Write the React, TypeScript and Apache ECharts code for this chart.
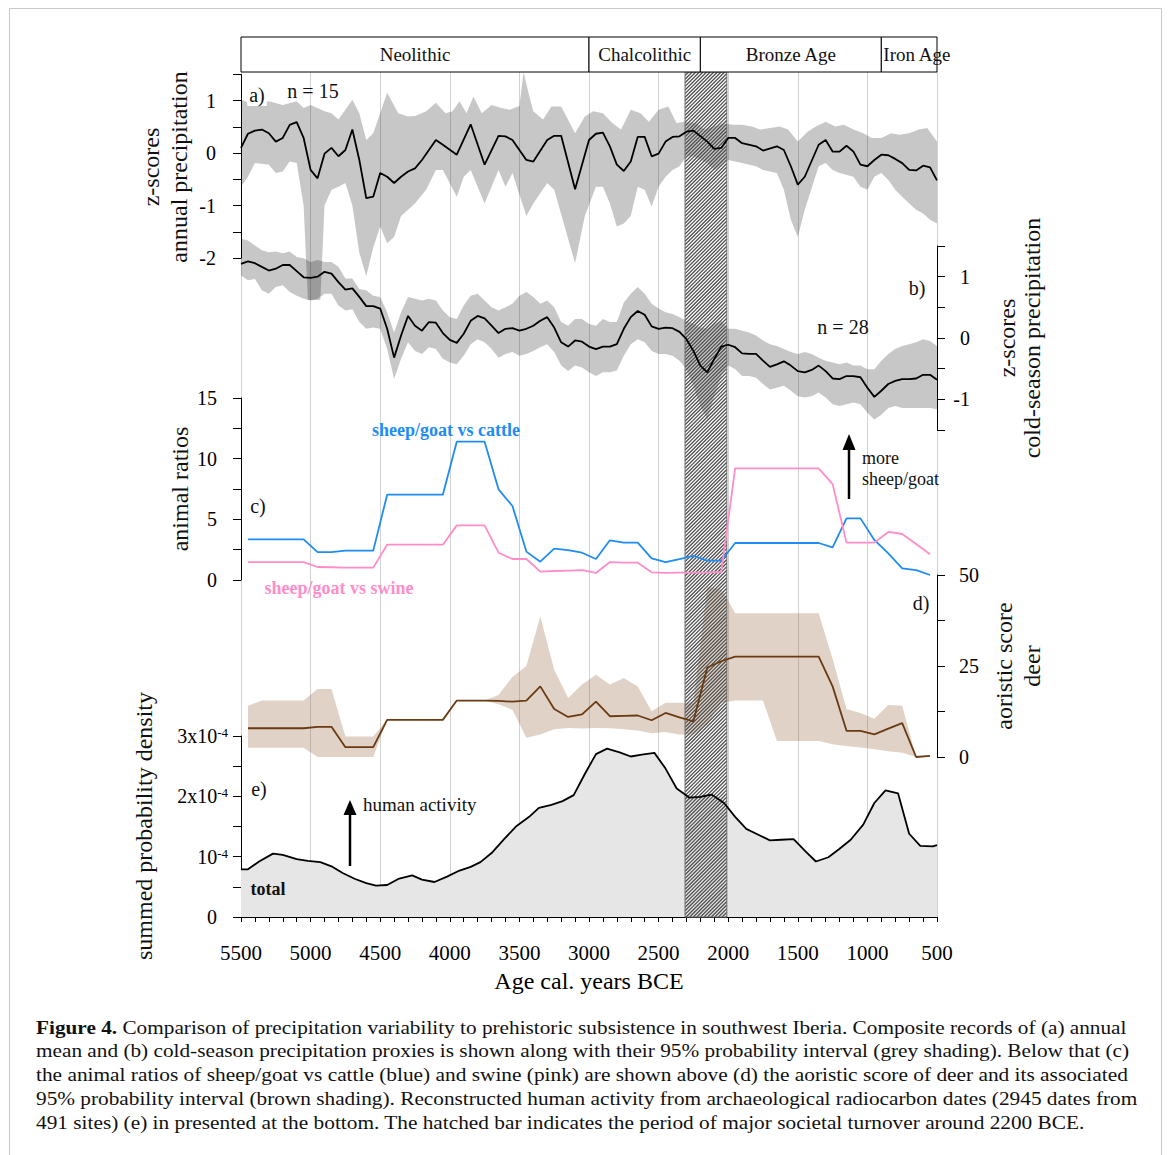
import React, { useEffect, useRef } from 'react';
import * as echarts from 'echarts';

const FONT = '"Liberation Serif", "Times New Roman", "DejaVu Serif", serif';

// ---------- period bar ----------
const periodNames = ['Neolithic', 'Chalcolithic', 'Bronze Age', 'Iron Age'];
const periodStart = [5500, 3000, 2200, 900];
const periodEnd = [3000, 2200, 900, 500];

// hatched bar (societal turnover)
const hatchSpan = [2310, 2010];

// ---------- (a) annual precipitation z-scores ----------
const aYears = [5500,5450,5400,5350,5300,5250,5200,5150,5100,5050,5000,4950,4900,4850,4800,4750,4700,4650,4600,4550,4500,4450,4400,4350,4300,4250,4200,4100,4050,3950,3850,3750,3650,3600,3550,3450,3400,3300,3250,3200,3100,3000,2950,2900,2850,2800,2750,2700,2650,2600,2550,2500,2450,2400,2350,2300,2250,2150,2100,2050,2000,1950,1900,1800,1750,1650,1600,1550,1500,1450,1350,1300,1250,1200,1150,1100,1050,1000,950,900,850,800,750,700,650,600,550,500];
const aValues = [0.10,0.37,0.43,0.45,0.38,0.22,0.29,0.54,0.59,0.29,-0.32,-0.48,-0.01,0.10,-0.06,0.06,0.45,-0.13,-0.86,-0.83,-0.38,-0.45,-0.57,-0.45,-0.35,-0.29,-0.13,0.25,0.16,-0.03,0.55,-0.22,0.33,0.32,0.25,-0.13,-0.16,0.25,0.33,0.33,-0.69,0.25,0.37,0.39,0.13,-0.22,-0.34,-0.16,0.31,0.31,-0.06,-0.01,0.22,0.31,0.32,0.41,0.43,0.22,0.08,0.10,0.29,0.29,0.19,0.13,0.05,0.13,0.06,-0.25,-0.60,-0.45,0.16,0.25,0.03,0.03,0.14,0.03,-0.22,-0.25,-0.13,-0.03,-0.04,-0.11,-0.19,-0.32,-0.33,-0.24,-0.27,-0.52];
const aUpper = [[5500,1.02],[5400,0.92],[5300,0.99],[5200,0.92],[5100,0.99],[5050,0.86],[5000,0.92],[4900,0.8],[4850,0.76],[4800,0.64],[4700,1.02],[4650,0.76],[4600,0.25],[4550,0.38],[4450,1.15],[4370,0.76],[4300,0.7],[4250,0.71],[4170,0.8],[4100,0.96],[4030,0.76],[3980,0.8],[3930,0.99],[3880,0.76],[3830,1.08],[3770,0.76],[3700,0.92],[3630,0.86],[3570,0.83],[3500,0.9],[3470,1.55],[3430,1.1],[3400,0.8],[3330,0.64],[3270,0.89],[3200,0.89],[3100,0.38],[3030,0.7],[2970,0.8],[2900,0.76],[2830,0.57],[2770,0.45],[2700,0.83],[2630,0.76],[2570,0.6],[2500,0.83],[2430,0.89],[2370,0.57],[2320,0.6],[2230,0.57],[2170,0.45],[2030,0.57],[1970,0.54],[1900,0.54],[1830,0.51],[1770,0.45],[1700,0.48],[1630,0.51],[1570,0.45],[1500,0.22],[1430,0.41],[1370,0.51],[1300,0.6],[1230,0.51],[1170,0.54],[1100,0.45],[1030,0.38],[970,0.29],[900,0.29],[830,0.38],[770,0.35],[700,0.38],[630,0.45],[570,0.48],[500,0.22]];
const aLower = [[5500,-0.64],[5450,-0.45],[5400,-0.19],[5300,-0.22],[5250,-0.38],[5200,-0.35],[5150,-0.16],[5100,-0.19],[5050,-1.0],[5020,-2.8],[4930,-2.8],[4900,-1.0],[4850,-0.7],[4800,-0.64],[4750,-0.57],[4700,-1.0],[4650,-1.9],[4600,-2.35],[4550,-1.8],[4500,-1.4],[4450,-1.72],[4400,-1.6],[4350,-1.2],[4300,-1.08],[4250,-0.96],[4170,-0.7],[4100,-0.32],[4050,-0.32],[3950,-0.83],[3900,-0.45],[3850,-0.32],[3750,-0.96],[3650,-0.32],[3600,-0.64],[3550,-0.38],[3450,-1.2],[3400,-0.96],[3300,-0.57],[3250,-0.7],[3100,-2.1],[3030,-1.2],[2950,-0.64],[2900,-0.64],[2850,-0.96],[2800,-1.4],[2750,-1.34],[2700,-1.2],[2650,-0.64],[2600,-0.7],[2550,-1.02],[2500,-0.64],[2450,-0.45],[2400,-0.32],[2350,-0.25],[2300,-0.06],[2250,-0.06],[2150,-0.19],[2100,-0.32],[2050,-0.25],[2000,-0.13],[1900,-0.19],[1800,-0.25],[1750,-0.32],[1650,-0.38],[1600,-0.7],[1550,-1.27],[1500,-1.6],[1450,-1.08],[1350,-0.25],[1300,-0.19],[1250,-0.32],[1200,-0.38],[1100,-0.45],[1050,-0.64],[1000,-0.7],[950,-0.45],[900,-0.38],[850,-0.51],[800,-0.7],[750,-0.83],[700,-0.96],[650,-1.08],[600,-1.15],[550,-1.27],[500,-1.34]];

// ---------- (b) cold-season precipitation z-scores ----------
const bYears = [5500,5450,5400,5350,5300,5250,5200,5150,5100,5050,5000,4950,4900,4850,4800,4750,4700,4650,4600,4550,4500,4450,4400,4350,4300,4250,4200,4150,4100,4050,4000,3950,3900,3850,3800,3750,3700,3650,3600,3550,3500,3450,3400,3350,3300,3250,3200,3150,3100,3050,3000,2950,2900,2850,2800,2750,2700,2650,2600,2550,2500,2450,2400,2350,2300,2250,2200,2150,2100,2050,2000,1950,1900,1850,1800,1750,1700,1650,1600,1550,1500,1450,1400,1350,1300,1250,1200,1150,1100,1050,1000,950,900,850,800,750,700,650,600,550,500];
const bValues = [1.21,1.25,1.22,1.16,1.10,1.13,1.19,1.19,1.09,0.99,0.98,1.00,1.08,1.05,0.91,0.79,0.81,0.67,0.52,0.52,0.48,0.15,-0.32,0.04,0.36,0.20,0.12,0.26,0.25,0.08,-0.03,-0.08,0.07,0.28,0.36,0.32,0.20,0.08,0.15,0.16,0.12,0.15,0.20,0.28,0.34,0.17,-0.07,-0.14,-0.04,-0.06,-0.14,-0.18,-0.14,-0.14,-0.10,0.15,0.34,0.44,0.38,0.19,0.15,0.17,0.16,0.10,-0.02,-0.21,-0.45,-0.56,-0.34,-0.14,-0.11,-0.15,-0.25,-0.26,-0.26,-0.37,-0.47,-0.43,-0.38,-0.45,-0.54,-0.56,-0.52,-0.45,-0.54,-0.66,-0.67,-0.62,-0.62,-0.64,-0.81,-0.96,-0.86,-0.75,-0.70,-0.67,-0.67,-0.66,-0.60,-0.60,-0.68];
const bUpper = [1.62,1.59,1.51,1.43,1.40,1.41,1.38,1.41,1.32,1.30,1.24,1.27,1.24,1.24,1.16,0.97,0.97,0.80,0.78,0.69,0.67,0.42,0.09,0.42,0.67,0.64,0.61,0.64,0.61,0.45,0.34,0.31,0.53,0.69,0.72,0.61,0.50,0.45,0.50,0.56,0.69,0.75,0.67,0.56,0.61,0.50,0.26,0.20,0.31,0.31,0.23,0.20,0.31,0.26,0.26,0.58,0.72,0.83,0.72,0.56,0.48,0.42,0.39,0.34,0.28,0.23,0.17,0.15,0.23,0.28,0.15,0.15,0.12,0.09,0.04,-0.04,-0.10,-0.13,-0.18,-0.23,-0.26,-0.23,-0.26,-0.32,-0.37,-0.40,-0.43,-0.40,-0.45,-0.45,-0.51,-0.51,-0.37,-0.26,-0.18,-0.13,-0.10,-0.07,-0.02,-0.05,-0.13];
const bLower = [1.02,0.94,0.96,0.78,0.72,0.83,0.86,0.75,0.69,0.64,0.61,0.64,0.72,0.72,0.53,0.45,0.47,0.26,0.15,0.17,0.15,-0.18,-0.67,-0.34,-0.07,-0.21,-0.26,-0.15,-0.18,-0.34,-0.40,-0.43,-0.29,-0.10,-0.02,-0.07,-0.18,-0.32,-0.26,-0.23,-0.29,-0.26,-0.21,-0.15,-0.10,-0.23,-0.45,-0.54,-0.45,-0.48,-0.56,-0.62,-0.56,-0.56,-0.53,-0.29,-0.10,-0.02,-0.07,-0.21,-0.26,-0.26,-0.29,-0.37,-0.51,-0.78,-1.11,-1.33,-0.95,-0.62,-0.45,-0.51,-0.62,-0.62,-0.65,-0.75,-0.84,-0.81,-0.78,-0.86,-0.95,-0.97,-0.95,-0.89,-0.97,-1.08,-1.11,-1.08,-1.05,-1.08,-1.22,-1.33,-1.25,-1.14,-1.11,-1.14,-1.14,-1.14,-1.14,-1.14,-1.16];

// ---------- (c) animal ratios, (d) deer ----------
const cdYears = [5450,5050,4950,4850,4750,4550,4450,4050,3950,3750,3650,3550,3450,3350,3250,3150,3050,2950,2850,2750,2650,2550,2450,2350,2250,2150,2050,1950,1350,1250,1150,1050,950,850,750,650,550];
const cattleRatio = [3.35,3.35,2.30,2.30,2.42,2.42,7.03,7.03,11.4,11.4,7.47,6.10,2.34,1.51,2.58,2.47,2.25,1.73,3.27,3.08,3.08,1.79,1.48,1.73,1.98,1.59,1.59,3.05,3.05,2.69,5.08,5.08,3.30,2.20,0.96,0.82,0.41];
const swineRatio = [1.48,1.48,1.07,1.05,1.02,1.02,2.91,2.91,4.50,4.50,2.25,1.73,1.73,0.69,0.74,0.78,0.82,0.58,1.48,1.43,1.43,0.63,0.58,0.60,0.60,0.62,0.66,9.20,9.20,7.90,3.08,3.08,3.08,3.96,3.79,2.97,2.12];
const deerScore = [7.9,7.9,8.3,8.3,2.7,2.7,10.2,10.2,15.5,15.5,15.4,15.2,15.5,19.4,13.2,11.0,11.7,15.2,11.2,11.3,11.4,10.1,12.1,10.9,9.8,24.6,26.3,27.6,27.6,19.4,7.2,7.2,6.2,7.8,9.3,0.0,0.3];
const deerUpper = [[5450,14.1],[5350,15.5],[5050,15.5],[4950,18.7],[4850,18.7],[4750,5.6],[4550,5.6],[4450,10.3],[4050,10.3],[3950,15.5],[3750,15.5],[3650,17],[3550,22],[3450,25],[3350,38.6],[3250,24],[3150,16.2],[3050,19.9],[2950,22.6],[2850,19.9],[2750,21.7],[2650,19.4],[2550,12.6],[2450,14.9],[2350,14.9],[2250,14.9],[2150,46.8],[2050,46],[2000,43],[1950,39.5],[1350,39.5],[1250,27],[1150,13.2],[1050,12.1],[950,10.5],[850,14.3],[750,14.1],[650,0],[550,0.3]];
const deerLower = [[5450,2.55],[5050,2.55],[4950,0],[4550,0],[4450,10.2],[4050,10.2],[3950,15.5],[3750,15.5],[3650,14.5],[3550,13],[3450,5.3],[3350,6.2],[3250,7.6],[3150,8],[3050,7.8],[2950,8],[2850,7.9],[2750,7.6],[2650,7.3],[2550,6.5],[2450,6.9],[2350,6.2],[2250,6.2],[2150,9],[2050,14.9],[1950,15.5],[1750,15.5],[1650,4.4],[1350,4.4],[1250,3.5],[1150,3],[1050,2.6],[950,2.1],[850,1.6],[750,1.2],[650,0],[550,0.3]];

// ---------- (e) summed probability density (x 1e-4) ----------
const eYears = [5500,5450,5370,5270,5200,5100,5020,4930,4850,4770,4680,4600,4530,4450,4370,4270,4200,4110,4020,3930,3850,3780,3700,3610,3520,3430,3360,3270,3190,3110,3030,2950,2870,2780,2700,2620,2530,2450,2370,2280,2200,2120,2030,1950,1870,1780,1700,1620,1530,1450,1370,1280,1200,1120,1030,950,870,780,700,620,530,500];
const eValues = [0.79,0.79,0.92,1.05,1.03,0.96,0.93,0.91,0.84,0.73,0.63,0.56,0.52,0.53,0.63,0.69,0.62,0.58,0.67,0.77,0.83,0.91,1.06,1.29,1.51,1.66,1.81,1.86,1.92,2.02,2.37,2.70,2.79,2.73,2.66,2.69,2.72,2.46,2.13,1.98,1.99,2.03,1.89,1.66,1.46,1.36,1.27,1.28,1.29,1.10,0.92,0.99,1.13,1.28,1.53,1.89,2.10,2.05,1.38,1.18,1.17,1.19];

const xTicks = [5500, 5000, 4500, 4000, 3500, 3000, 2500, 2000, 1500, 1000, 500];

const captionBold = 'Figure 4.';
const captionLines = [
  ' Comparison of precipitation variability to prehistoric subsistence in southwest Iberia. Composite records of (a) annual',
  'mean and (b) cold-season precipitation proxies is shown along with their 95% probability interval (grey shading). Below that (c)',
  'the animal ratios of sheep/goat vs cattle (blue) and swine (pink) are shown above (d) the aoristic score of deer and its associated',
  '95% probability interval (brown shading). Reconstructed human activity from archaeological radiocarbon dates (2945 dates from',
  '491 sites) (e) in presented at the bottom. The hatched bar indicates the period of major societal turnover around 2200 BCE.',
];
const captionRight = [1127, 1130, 1128, 1138, 1085];

// ---------- helpers ----------
const zip = (xs: number[], ys: number[]) => xs.map((x, i) => [x, ys[i]]);

function measure(text: string, font: string) {
  const ctx = document.createElement('canvas').getContext('2d');
  if (!ctx) return text.length * 8;
  ctx.font = font;
  return ctx.measureText(text).width;
}

function bandSeries(idx: number, upper: number[][], lower: number[][], fill: string, z: number) {
  return {
    type: 'custom',
    xAxisIndex: idx,
    yAxisIndex: idx,
    z,
    silent: true,
    clip: false,
    data: [upper[0]],
    renderItem: (_p: any, api: any) => {
      const pts = upper.map((p) => api.coord(p)).concat(lower.slice().reverse().map((p) => api.coord(p)));
      return { type: 'polygon', shape: { points: pts }, style: { fill } };
    },
  };
}

function lineSeries(idx: number, data: number[][], color: string, width = 1.8, z = 6) {
  return {
    type: 'line',
    xAxisIndex: idx,
    yAxisIndex: idx,
    data,
    symbol: 'none',
    showSymbol: false,
    silent: true,
    z,
    lineStyle: { color, width },
  };
}

function txt(text: string, x: number, y: number, extra: any = {}, el: any = {}) {
  return {
    type: 'text',
    x,
    y,
    z: 100,
    silent: true,
    ...el,
    style: {
      text,
      fontSize: 20,
      fontFamily: FONT,
      fill: '#111',
      align: 'center',
      verticalAlign: 'middle',
      textAlign: 'center',
      textVerticalAlign: 'middle',
      ...extra,
    },
  };
}

function arrow(x: number, yTip: number, yHead: number, yTail: number) {
  return {
    type: 'group',
    z: 100,
    silent: true,
    children: [
      { type: 'line', shape: { x1: x, y1: yTail, x2: x, y2: yHead }, style: { stroke: '#000', lineWidth: 2.5 } },
      { type: 'polygon', shape: { points: [[x - 6.5, yHead], [x + 6.5, yHead], [x, yTip]] }, style: { fill: '#000' } },
    ],
  };
}

function buildOption() {
  const GL = 241;
  const GW = 696;
  const gridDefs = [
    { top: 72, height: 845 }, // 0 background / hatch
    { top: 74.5, height: 183.5 }, // 1 a
    { top: 246, height: 184 }, // 2 b
    { top: 398, height: 182 }, // 3 c
    { top: 575, height: 182 }, // 4 d
    { top: 736, height: 181 }, // 5 e
    { top: 37, height: 35 }, // 6 periods
  ];
  const grid = gridDefs.map((g) => ({ left: GL, width: GW, ...g }));

  const xAxis: any[] = gridDefs.map((_, i) => ({
    type: 'value',
    gridIndex: i,
    min: 500,
    max: 5500,
    inverse: true,
    show: false,
  }));
  xAxis[0] = {
    type: 'value',
    gridIndex: 0,
    min: 500,
    max: 5500,
    interval: 500,
    inverse: true,
    axisLine: { show: false },
    axisTick: { show: false },
    axisLabel: { show: false },
    splitLine: { show: true, lineStyle: { color: '#d2d2d2', width: 1 } },
  };
  xAxis[5] = {
    type: 'value',
    gridIndex: 5,
    min: 500,
    max: 5500,
    interval: 500,
    inverse: true,
    position: 'bottom',
    axisLine: { show: true, onZero: false, lineStyle: { color: '#000', width: 1 } },
    axisTick: { show: true, length: 5, lineStyle: { color: '#000' } },
    minorTick: { show: true, splitNumber: 5, length: 5, lineStyle: { color: '#000' } },
    axisLabel: {
      fontSize: 21,
      fontFamily: FONT,
      color: '#000',
      margin: 25,
      formatter: (v: number) => (xTicks.indexOf(v) >= 0 ? String(v) : ''),
    },
    splitLine: { show: false },
    name: 'Age cal. years BCE',
    nameLocation: 'middle',
    nameGap: 52,
    nameTextStyle: { fontSize: 24, fontFamily: FONT, color: '#000' },
  };

  const axisCommon = (gridIndex: number, min: number, max: number, interval: number, position: string, labelEvery: number, margin: number, align?: string) => ({
    type: 'value',
    gridIndex,
    min,
    max,
    interval,
    position,
    axisLine: { show: true, onZero: false, lineStyle: { color: '#000', width: 1 } },
    axisTick: { show: true, length: 8, lineStyle: { color: '#000' } },
    splitLine: { show: false },
    axisLabel: {
      fontSize: 20,
      fontFamily: FONT,
      color: '#000',
      margin,
      ...(align ? { align } : {}),
      formatter: (v: number) => (Math.abs(v / labelEvery - Math.round(v / labelEvery)) < 1e-6 ? String(Math.round(v)) : ''),
    },
  });

  const yAxis: any[] = [
    { type: 'value', gridIndex: 0, min: 0, max: 1, show: false },
    axisCommon(1, -2, 1.5, 0.5, 'left', 1, 25),
    axisCommon(2, -1.5, 1.5, 0.5, 'right', 1, 33, 'right'),
    axisCommon(3, 0, 15, 2.5, 'left', 5, 24),
    axisCommon(4, 0, 50, 12.5, 'right', 25, 22, 'left'),
    {
      ...axisCommon(5, 0, 3, 0.5, 'left', 1, 13),
      axisLabel: {
        fontSize: 20,
        fontFamily: FONT,
        color: '#000',
        margin: 13,
        formatter: (v: number) => {
          if (v === 0) return '{z|0}';
          if (v === 1) return '{n|10}{s|-4}';
          if (Number.isInteger(v)) return `{n|${v}x10}{s|-4}`;
          return '';
        },
        rich: {
          n: { fontSize: 20, fontFamily: FONT, color: '#000', lineHeight: 20, verticalAlign: 'bottom' },
          s: { fontSize: 13, fontFamily: FONT, color: '#000', lineHeight: 13, verticalAlign: 'top' },
          z: { fontSize: 20, fontFamily: FONT, color: '#000', padding: [0, 11, 0, 0] },
        },
      },
    },
    { type: 'value', gridIndex: 6, min: 0, max: 1, show: false },
  ];

  const hatch = {
    type: 'custom',
    xAxisIndex: 0,
    yAxisIndex: 0,
    z: 4,
    silent: true,
    data: [hatchSpan],
    renderItem: (_p: any, api: any) => {
      const a = api.coord([api.value(0), 1]);
      const b = api.coord([api.value(1), 0]);
      const L = Math.min(a[0], b[0]);
      const R = Math.max(a[0], b[0]);
      const T = Math.min(a[1], b[1]);
      const B = Math.max(a[1], b[1]);
      const children: any[] = [];
      for (let c = L + T; c <= R + B; c += 3.6) {
        const y1 = Math.max(T, c - R);
        const y2 = Math.min(B, c - L);
        if (y2 > y1) children.push({ type: 'line', shape: { x1: c - y1, y1, x2: c - y2, y2 }, style: { stroke: '#4d4d4d', lineWidth: 1.25 } });
      }
      children.push({ type: 'rect', shape: { x: L, y: T, width: R - L, height: B - T }, style: { fill: 'none', stroke: '#6a6a6a', lineWidth: 1 } });
      return { type: 'group', children };
    },
  };

  const periods = {
    type: 'custom',
    xAxisIndex: 6,
    yAxisIndex: 6,
    z: 5,
    silent: true,
    data: periodStart.map((s, i) => [s, periodEnd[i]]),
    renderItem: (p: any, api: any) => {
      const i = p.dataIndex;
      const p0 = api.coord([api.value(0), 1]);
      const p1 = api.coord([api.value(1), 0]);
      const L = Math.min(p0[0], p1[0]);
      const R = Math.max(p0[0], p1[0]);
      const T = Math.min(p0[1], p1[1]);
      const B = Math.max(p0[1], p1[1]);
      const overflow = i === periodNames.length - 1;
      return {
        type: 'group',
        children: [
          { type: 'rect', shape: { x: L, y: T, width: R - L, height: B - T }, style: { fill: '#fff', stroke: '#000', lineWidth: 1 } },
          {
            type: 'text',
            x: overflow ? L + 2 : (L + R) / 2,
            y: (T + B) / 2,
            style: {
              text: periodNames[i],
              fontSize: 19,
              fontFamily: FONT,
              fill: '#111',
              align: overflow ? 'left' : 'center',
              textAlign: overflow ? 'left' : 'center',
              verticalAlign: 'middle',
              textVerticalAlign: 'middle',
            },
          },
        ],
      };
    },
  };

  const series: any[] = [
    bandSeries(1, aUpper, aLower, 'rgba(0,0,0,0.22)', 2),
    bandSeries(2, zip(bYears, bUpper), zip(bYears, bLower), 'rgba(0,0,0,0.22)', 2),
    bandSeries(4, deerUpper, deerLower, 'rgba(139,90,43,0.27)', 2),
    {
      type: 'line',
      xAxisIndex: 5,
      yAxisIndex: 5,
      data: zip(eYears, eValues),
      symbol: 'none',
      silent: true,
      z: 1,
      lineStyle: { opacity: 0, width: 0 },
      areaStyle: { color: '#e6e6e6', opacity: 1 },
    },
    hatch,
    periods,
    lineSeries(1, zip(aYears, aValues), '#000'),
    lineSeries(2, zip(bYears, bValues), '#000'),
    lineSeries(3, zip(cdYears, cattleRatio), '#1f8cf6'),
    lineSeries(3, zip(cdYears, swineRatio), '#ff8dc8'),
    lineSeries(4, zip(cdYears, deerScore), '#6a3a12'),
    lineSeries(5, zip(eYears, eValues), '#000'),
  ];

  // caption
  const fsz = 19;
  const capEls = captionLines.map((line, i) => {
    const text = i === 0 ? `{b|${captionBold}}${line}` : line;
    const w = (i === 0 ? measure(captionBold, `bold ${fsz}px "Liberation Serif"`) : 0) + measure(line, `${fsz}px "Liberation Serif"`);
    const scaleX = (captionRight[i] - 36) / w;
    return {
      type: 'text',
      x: 36,
      y: 1027 + 23.8 * i,
      scaleX,
      z: 100,
      silent: true,
      style: {
        text,
        fontSize: fsz,
        fontFamily: FONT,
        fill: '#111',
        align: 'left',
        textAlign: 'left',
        verticalAlign: 'middle',
        textVerticalAlign: 'middle',
        rich: { b: { fontSize: fsz, fontFamily: FONT, fontWeight: 'bold', fill: '#111' } },
      },
    };
  });

  const rot = { rotation: Math.PI / 2 };
  const graphic: any[] = [
    { type: 'rect', z: -10, silent: true, shape: { x: 9.5, y: 8.5, width: 1152, height: 1170 }, style: { fill: 'none', stroke: '#c9c9c9', lineWidth: 1 } },
    txt('a)', 257, 95, { backgroundColor: '#fff', padding: [1, 2, 1, 2] }),
    txt('n = 15', 313, 91),
    txt('b)', 917, 288),
    txt('n = 28', 843, 327),
    txt('c)', 258, 506),
    txt('d)', 921, 603),
    txt('e)', 259, 789),
    txt('total', 268, 889, { fontWeight: 'bold', fontSize: 18 }),
    txt('human activity', 363, 804, { align: 'left', textAlign: 'left', fontSize: 19 }),
    arrow(350, 800, 815, 866),
    txt('more', 862, 458, { align: 'left', textAlign: 'left', fontSize: 18 }),
    txt('sheep/goat', 862, 479, { align: 'left', textAlign: 'left', fontSize: 18 }),
    arrow(849, 434, 450, 499),
    txt('sheep/goat vs cattle', 446, 430, { fontWeight: 'bold', fontSize: 18, fill: '#1f8cf6' }),
    txt('sheep/goat vs swine', 339, 588, { fontWeight: 'bold', fontSize: 18, fill: '#ff8dc8' }),
    txt('z-scores\nannual precipitation', 165, 167, { fontSize: 24, lineHeight: 28 }, rot),
    txt('animal ratios', 180, 489, { fontSize: 24 }, rot),
    txt('summed probability density', 144, 826, { fontSize: 24 }, rot),
    txt('z-scores\ncold-season precipitation', 1019, 338, { fontSize: 24, lineHeight: 25 }, rot),
    txt('aoristic score\ndeer', 1018, 666, { fontSize: 24, lineHeight: 28 }, rot),
    ...capEls,
  ];

  return {
    animation: false,
    backgroundColor: '#fff',
    textStyle: { fontFamily: FONT },
    grid,
    xAxis,
    yAxis,
    series,
    graphic,
  };
}

export default function App() {
  const ref = useRef<HTMLDivElement>(null);
  useEffect(() => {
    document.body.style.margin = '0';
    if (!ref.current) return;
    const chart = echarts.init(ref.current, null, { renderer: 'svg' });
    chart.setOption(buildOption() as any);
    return () => chart.dispose();
  }, []);
  return <div ref={ref} style={{ width: 1171, height: 1155 }} />;
}
